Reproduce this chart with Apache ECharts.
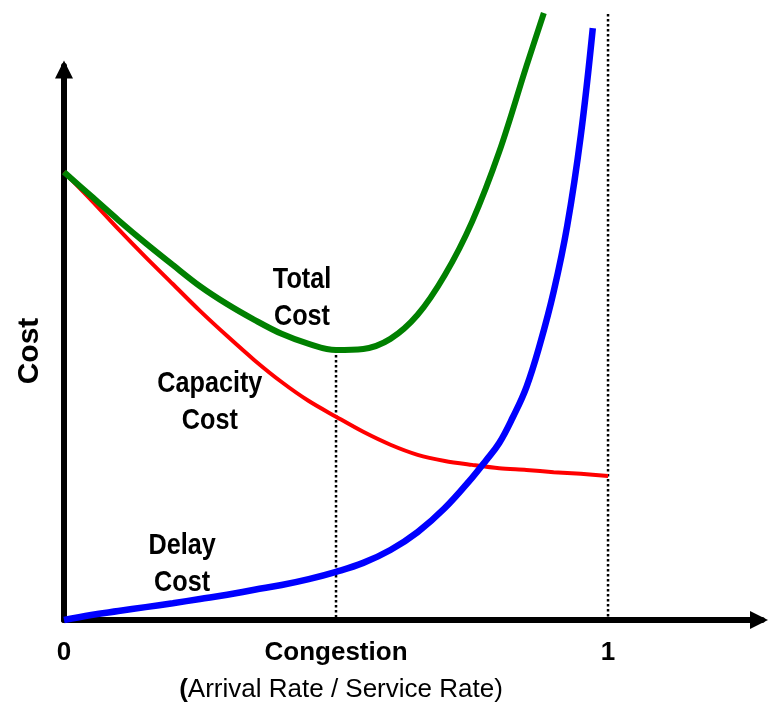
<!DOCTYPE html>
<html>
<head>
<meta charset="utf-8">
<script src="https://cdn.jsdelivr.net/npm/echarts@6/dist/echarts.min.js"></script>
<style>
html,body{margin:0;padding:0;background:#fff;}
#chart{width:773px;height:706px;}
</style>
</head>
<body>
<div id="chart"></div>
<script>
// ---- data (x = congestion ratio, y = cost, arbitrary units) ----
const xSteps = [0,0.05,0.1,0.15,0.2,0.25,0.3,0.35,0.4,0.45,0.5,0.55,0.6,0.65,0.7,0.75,0.8,0.85,0.9,0.95,1.0];
const capacityVals = [80.0,75.0,69.8,64.8,60.0,55.2,50.7,46.4,42.5,39.1,36.3,33.6,31.3,29.5,28.4,27.7,27.1,26.8,26.4,26.1,25.7];
const totalX = [0,0.05,0.1,0.15,0.2,0.25,0.3,0.35,0.4,0.45,0.5,0.55,0.6,0.65,0.7,0.75,0.8,0.85,0.882];
const totalVals = [80.0,75.7,71.4,67.3,63.4,59.6,56.4,53.6,51.1,49.3,48.2,48.4,50.2,54.5,61.6,71.1,83.6,98.9,108.4];
const delayX = [0,0.05,0.1,0.15,0.2,0.25,0.3,0.35,0.4,0.45,0.5,0.55,0.6,0.65,0.7,0.75,0.775,0.8,0.825,0.85,0.875,0.9,0.925,0.95,0.972];
const delayVals = [0,0.9,1.6,2.3,3.0,3.75,4.5,5.4,6.25,7.3,8.6,10.2,12.5,15.7,20.0,25.4,28.4,31.6,36.2,41.6,49.3,58.6,70.4,86.6,105.7];
const xTickValues = [0, 0.5, 1];
const xTickLabels = ['0', 'Congestion', '1'];
const guideX = [0.5, 1];
const guideTop = [48.2, 108.2];
const annoTexts = ['Total\nCost', 'Capacity\nCost', 'Delay\nCost'];
const annoX = [0.4375, 0.268, 0.217];
const annoY = [57.4, 38.9, 9.9];
const xAxisTitle = 'Arrival Rate / Service Rate)';
const yAxisTitle = 'Cost';

const zip = (xs, ys) => xs.map((x, i) => [x, ys[i]]);
const chart = echarts.init(document.getElementById('chart'), null, {renderer: 'canvas'});
const axisLineStyle = {color: '#000', width: 6};
const fontFam = "'Liberation Sans', Arial, sans-serif";

const guideSeries = guideX.map((gx, i) => ({
  name: 'guide' + i, type: 'line', data: [[gx, guideTop[i]], [gx, 0]],
  showSymbol: false, clip: false, silent: true, z: 3,
  lineStyle: {color: '#000', type: 'dotted', width: 2.5}
}));

const option = {
  animation: false,
  grid: {left: 64, right: 11, top: 66, bottom: 86},
  xAxis: {
    type: 'value', min: 0, max: 1.283,
    axisLine: {show: true, onZero: false, symbol: ['none', 'triangle'], symbolSize: [18, 18], symbolOffset: [0, -3], lineStyle: axisLineStyle},
    axisTick: {show: false},
    splitLine: {show: false},
    axisLabel: {
      customValues: xTickValues,
      formatter: function (v) { const i = xTickValues.indexOf(v); return i >= 0 ? xTickLabels[i] : ''; },
      fontSize: 26, fontWeight: 'bold', color: '#000', margin: 20, fontFamily: fontFam
    }
  },
  yAxis: {
    type: 'value', min: 0, max: 98.93,
    axisLine: {show: true, onZero: false, symbol: ['none', 'triangle'], symbolSize: [18, 18], symbolOffset: [0, -3.5], lineStyle: axisLineStyle},
    axisTick: {show: false},
    splitLine: {show: false},
    axisLabel: {show: false}
  },
  series: guideSeries.concat([
    {
      name: 'Capacity Cost', type: 'line', data: zip(xSteps, capacityVals), smooth: 0.3,
      showSymbol: false, clip: false, silent: true, z: 4,
      lineStyle: {color: '#ff0000', width: 4}
    },
    {
      name: 'Delay Cost', type: 'line', data: zip(delayX, delayVals), smooth: 0.4,
      showSymbol: false, clip: false, silent: true, z: 5,
      lineStyle: {color: '#0000ff', width: 6.5}
    },
    {
      name: 'Total Cost', type: 'line', data: zip(totalX, totalVals), smooth: 0.35,
      showSymbol: false, clip: false, silent: true, z: 6,
      lineStyle: {color: '#008000', width: 6}
    }
  ])
};
chart.setOption(option);

const graphics = annoTexts.map((t, i) => {
  const p = chart.convertToPixel({gridIndex: 0}, [annoX[i], annoY[i]]);
  return {
    type: 'text', x: p[0], y: p[1], scaleX: 0.84, silent: true,
    style: {text: t, fill: '#000', font: 'bold 30px ' + fontFam, lineHeight: 37, align: 'center', verticalAlign: 'middle'}
  };
});
graphics.push({
  type: 'text', x: 30, y: 351, rotation: Math.PI / 2, silent: true,
  style: {text: yAxisTitle, fill: '#000', font: 'bold 30px ' + fontFam, align: 'center', verticalAlign: 'middle'}
});
graphics.push({
  type: 'text', x: 341, y: 690, silent: true,
  style: {
    text: '{b|(}{r|' + xAxisTitle + '}', align: 'center', verticalAlign: 'middle',
    rich: {
      b: {fontSize: 26, fontWeight: 'bold', fontFamily: fontFam, fill: '#000', color: '#000'},
      r: {fontSize: 26, fontFamily: fontFam, fill: '#000', color: '#000'}
    }
  }
});
chart.setOption({graphic: graphics});
</script>
</body>
</html>
